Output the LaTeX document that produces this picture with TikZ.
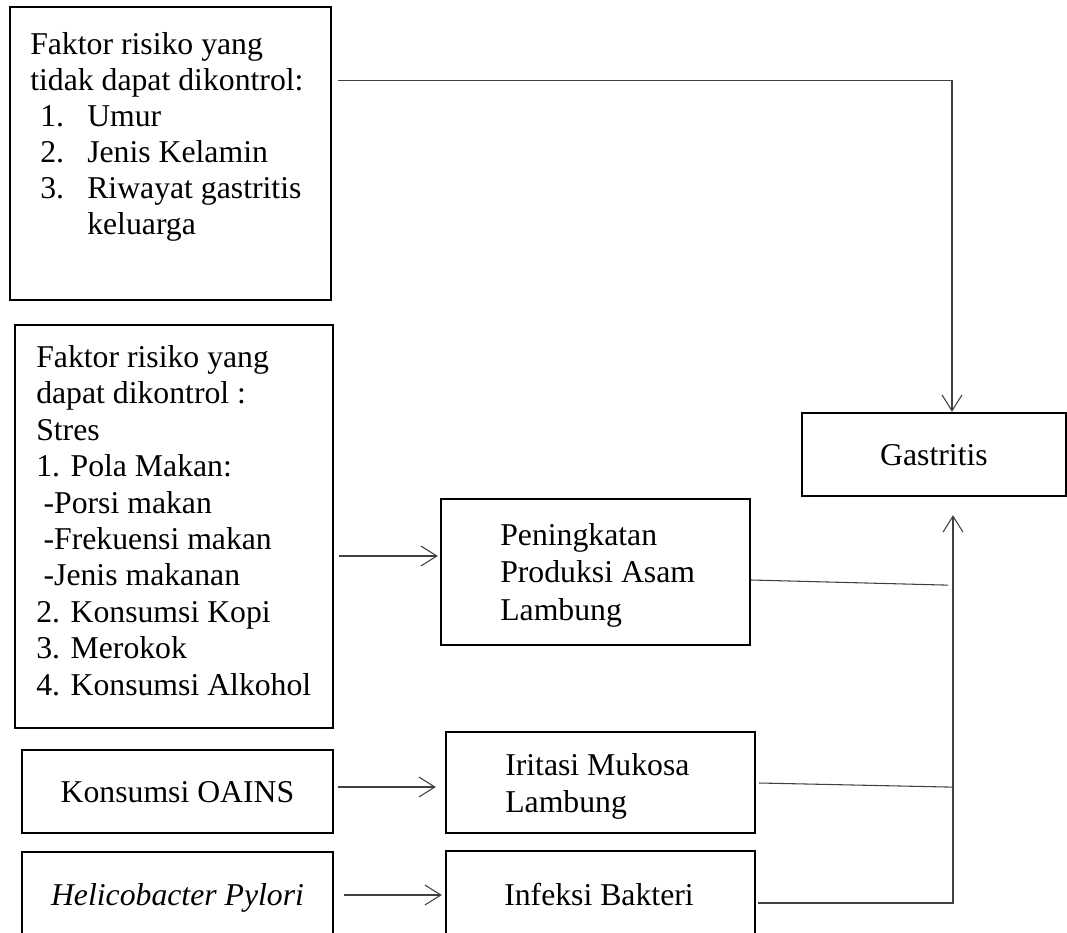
\documentclass[tikz,border=0pt]{standalone}
\usepackage{fontspec}
\setmainfont{Liberation Serif}
\usetikzlibrary{arrows.meta,calc,fit}
\begin{document}
\begin{tikzpicture}[x=0.75pt,y=-0.75pt,
  box/.style={draw=black,line width=1.7pt,inner sep=0pt},
  txt/.style={align=left,inner sep=0pt,anchor=base west,font=\fontsize{23.8}{27}\selectfont},
  ctxt/.style={inner sep=0pt,anchor=base,font=\fontsize{23.8}{27}\selectfont},
  conn/.style={draw=black!75,line width=0.8pt},
  arr/.style={conn,-{Straight Barb[length=12pt,width=15pt,line width=0.8pt]}}]
\useasboundingbox (0,0) rectangle (1067,932);
\clip (0,0) rectangle (1067,932);
% boxes
\node[box, fit={(10,7) (331,300)}] (b1) {};
\node[box, fit={(15,325) (333,728)}] (b2) {};
\node[box, fit={(22,750) (333,833)}] (oains) {};
\node[box, fit={(22,852) (333,938)}] (heli) {};
\node[box, fit={(441,499) (750,645)}] (pen) {};
\node[box, fit={(446,732) (755,833)}] (iri) {};
\node[box, fit={(446,851) (755,955)}] (inf) {};
\node[box, fit={(802,413) (1066,496)}] (gas) {};
% texts (anchored at the baseline of the last line)
\node[txt] (t1) at (30,234) {Faktor risiko yang\\
tidak dapat dikontrol:\\
\hspace*{7.5pt}\makebox[35.25pt][l]{1.}Umur\\
\hspace*{7.5pt}\makebox[35.25pt][l]{2.}Jenis Kelamin\\
\hspace*{7.5pt}\makebox[35.25pt][l]{3.}Riwayat gastritis\\
\hspace*{42.75pt}keluarga};
\node[txt,font=\fontsize{23.8}{27.3}\selectfont] (t2) at (36,695) {Faktor risiko yang\\
dapat dikontrol :\\
Stres\\
1. Pola Makan:\\
\hspace*{5.5pt}-Porsi makan\\
\hspace*{5.5pt}-Frekuensi makan\\
\hspace*{5.5pt}-Jenis makanan\\
2. Konsumsi Kopi\\
3. Merokok\\
4. Konsumsi Alkohol};
\node[txt,font=\fontsize{23.8}{28}\selectfont] (t3) at (500,620) {Peningkatan\\Produksi Asam\\Lambung};
\node[txt,font=\fontsize{23.8}{27.75}\selectfont] (t4) at (505,812) {Iritasi Mukosa\\Lambung};
\node[txt] (t5) at (504,905) {Infeksi Bakteri};
\node[ctxt] (t6) at (177.5,802) {Konsumsi OAINS};
\node[ctxt] (t7) at (177.5,905) {\itshape Helicobacter Pylori};
\node[ctxt] (t8) at (934,465) {Gastritis};
% connectors
\draw[arr] ($(b1.east)+(6,-73)$) -| ($(gas.north)+(18,0)$);
\draw[arr] ($(b2.east)+(5,29.5)$) -- ($(pen.west)+(-2,-16)$);
\draw[arr] ($(oains.east)+(4,-4.5)$) -- ($(iri.west)+(-9,4.5)$);
\draw[arr] ($(heli.east)+(10,0)$) -- ($(inf.west)+(-3,-8)$);
\draw[conn] ($(pen.east)+(0,8)$) -- ($(gas.south)+(14,88)$);
\draw[conn] ($(iri.east)+(3,0.5)$) -- ($(gas.south)+(19,290)$);
\draw[arr] ($(inf.east)+(2,0)$) -| ($(gas.south)+(19,18)$);
\end{tikzpicture}
\end{document}
